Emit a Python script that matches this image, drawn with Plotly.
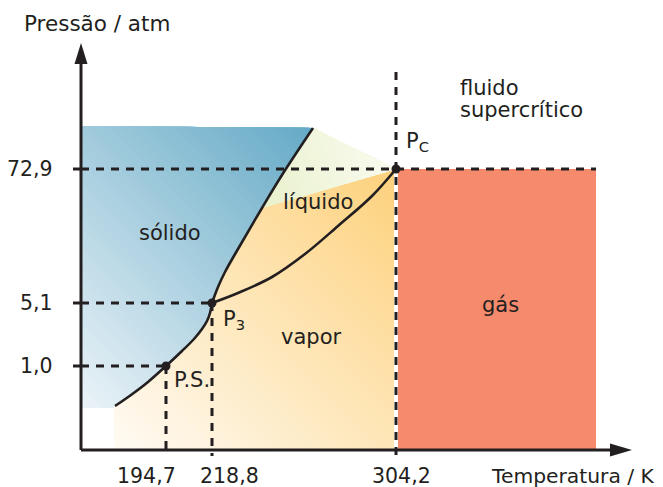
import plotly.graph_objects as go

# ---------------- data (schematic diagram units) ----------------
T_tick_labels = ["194,7", "218,8", "304,2"]
T_tick_pos = [85, 131, 315]
P_tick_labels = ["1,0", "5,1", "72,9"]
P_tick_pos = [84, 147, 281]
point_labels = ["P.S.", "P<sub>3</sub>", "P<sub>C</sub>"]

sublimation_T = [34, 50, 67, 85, 101, 113, 121, 126, 129, 131]
sublimation_P = [44, 55, 68, 84, 99, 111, 121, 129, 137, 147]
fusion_T = [131, 137, 144, 157, 181, 201, 232]
fusion_P = [147, 163, 178, 201, 242, 275, 322]
vaporization_T = [131, 157, 191, 224, 257, 291, 315]
vaporization_P = [147, 157, 173, 196, 224, 254, 281]

solid_top_P = 324                 # top edge of solid region
solid_bottom_P = 42
vapor_left_T = 33
liquid_corner = (181, 242)        # where liquid top edge meets fusion curve
gas_right_T = 515

region_labels = ["sólido", "líquido", "vapor", "gás"]
axis_titles = ["Pressão / atm", "Temperatura / K"]
supercritical_label = ["fluido", "supercrítico"]

# ---------------- styling ----------------
INK = "#231f20"
FONT = dict(family="DejaVu Sans, Verdana, sans-serif", size=21, color=INK)


def hex2rgb(h):
    h = h.lstrip("#")
    return tuple(int(h[i:i + 2], 16) for i in (0, 2, 4))


def lerp(c0, c1, f):
    a, b = hex2rgb(c0), hex2rgb(c1)
    return "rgb(%d,%d,%d)" % tuple(round(a[i] + (b[i] - a[i]) * f) for i in range(3))


def clip(poly, a, b, t):
    out = []
    n = len(poly)
    for i in range(n):
        P, Q = poly[i], poly[(i + 1) % n]
        fp = a * P[0] + b * P[1] - t
        fq = a * Q[0] + b * Q[1] - t
        if fp >= 0:
            out.append(P)
        if (fp >= 0) != (fq >= 0):
            s = fp / (fp - fq)
            out.append((P[0] + s * (Q[0] - P[0]), P[1] + s * (Q[1] - P[1])))
    return out


fig = go.Figure()


def add_poly(poly, color):
    xs = [p[0] for p in poly] + [poly[0][0]]
    ys = [p[1] for p in poly] + [poly[0][1]]
    fig.add_trace(go.Scatter(x=xs, y=ys, mode="lines", fill="toself",
                             fillcolor=color, line=dict(width=0, color=color),
                             hoverinfo="skip", showlegend=False))


def gradient_fill(poly, direction, c0, c1, n=48):
    a, b = direction
    ts = [a * x + b * y for x, y in poly]
    tmin, tmax = min(ts), max(ts)
    for k in range(n):
        t = tmin + (tmax - tmin) * k / n
        part = poly if k == 0 else clip(poly, a, b, t)
        if len(part) >= 3:
            add_poly(part, lerp(c0, c1, (k + 0.5) / n))


sub = list(zip(sublimation_T, sublimation_P))
fus = list(zip(fusion_T, fusion_P))
Pc = (T_tick_pos[2], P_tick_pos[2])

# solid region
solid_poly = [(0, solid_top_P), fus[-1]] + fus[::-1][1:] + sub[::-1][1:] + \
             [(sub[0][0], solid_bottom_P), (0, solid_bottom_P)]
gradient_fill(solid_poly, (1, 1), "#ebf3f8", "#65aac6")

# liquid + vapor region
lv_poly = [(vapor_left_T, 0), (vapor_left_T, sub[0][1])] + sub + \
          [p for p in fus[1:] if p[1] <= liquid_corner[1]] + [Pc, (Pc[0], 0)]
gradient_fill(lv_poly, (1, 1), "#fffbf4", "#fdd17c")

# pale wedge above liquid
wedge = [fus[-1], Pc, liquid_corner]
gradient_fill(wedge, (1, 0.3), "#e9f1cc", "#f9fbef", n=24)

# gas rectangle
add_poly([(Pc[0], 0), (Pc[0], Pc[1]), (gas_right_T, Pc[1]), (gas_right_T, 0)], "#f58a6d")


def seg(xs, ys, width=3, dash=None, color=INK):
    fig.add_trace(go.Scatter(x=xs, y=ys, mode="lines",
                             line=dict(color=color, width=width, dash=dash),
                             hoverinfo="skip", showlegend=False))


# white separator under the critical-temperature line
seg([Pc[0], Pc[0]], [0, Pc[1]], width=4, color="white")

DASH = "8px,7px"
# dashed guide lines
seg([0, T_tick_pos[0]], [P_tick_pos[0]] * 2, dash=DASH)
seg([0, T_tick_pos[1]], [P_tick_pos[1]] * 2, dash=DASH)
seg([0, gas_right_T], [P_tick_pos[2]] * 2, dash=DASH)
seg([T_tick_pos[0]] * 2, [P_tick_pos[0], -6], dash=DASH)
seg([T_tick_pos[1]] * 2, [P_tick_pos[1], -6], dash=DASH)
seg([T_tick_pos[2]] * 2, [378, -6], dash=DASH)

# phase boundary curves
for xs, ys in [(sublimation_T, sublimation_P), (fusion_T, fusion_P),
               (vaporization_T, vaporization_P)]:
    fig.add_trace(go.Scatter(x=xs, y=ys, mode="lines",
                             line=dict(color=INK, width=2.6, shape="spline"),
                             hoverinfo="skip", showlegend=False))

# axes with arrows
seg([0, 0], [0, 390])
seg([0, 532], [0, 0])
add_poly([(-6.5, 386), (6.5, 386), (0, 407)], INK)
add_poly([(529, -6.5), (529, 6.5), (551, 0)], INK)
for p in P_tick_pos:
    seg([-8, 0], [p, p])

# special points
fig.add_trace(go.Scatter(x=T_tick_pos, y=P_tick_pos, mode="markers",
                         marker=dict(size=9, color=INK),
                         hoverinfo="skip", showlegend=False))

ann = []


def text(x, y, s, xanchor="center", size=21):
    ann.append(dict(x=x, y=y, text=s, showarrow=False, xanchor=xanchor,
                    yanchor="middle", font=dict(FONT, size=size)))


label_shift = [-20, 17, 5]
for pos, lab, sh in zip(T_tick_pos, T_tick_labels, label_shift):
    text(pos + sh, -26, lab, size=20.5)
for pos, lab in zip(P_tick_pos, P_tick_labels):
    text(-26, pos, lab, xanchor="right", size=20.5)

text(16, 427, axis_titles[0], size=21.5)
text(492, -26, axis_titles[1], size=20.3)
text(89, 217, region_labels[0])
text(237, 248, region_labels[1])
text(230, 113, region_labels[2])
text(419, 145, region_labels[3])
text(377, 362, supercritical_label[0], xanchor="left")
text(377, 340, supercritical_label[1], xanchor="left")
text(T_tick_pos[0] + 6, P_tick_pos[0] - 14, point_labels[0], xanchor="left")
text(T_tick_pos[1] + 9, P_tick_pos[1] - 17, point_labels[1], xanchor="left")
text(T_tick_pos[2] + 8, P_tick_pos[2] + 27, point_labels[2], xanchor="left")

# the page places the figure 8px in from the window's top-left corner,
# so the ranges are offset to keep 1 unit = 1 px on screen
fig.update_layout(
    width=663, height=487,
    margin=dict(l=0, r=0, t=0, b=0),
    paper_bgcolor="white", plot_bgcolor="white",
    xaxis=dict(range=[-73, 590], visible=False, fixedrange=True),
    yaxis=dict(range=[-45, 442], visible=False, fixedrange=True),
    annotations=ann, showlegend=False,
)

fig.write_html("out.html")
